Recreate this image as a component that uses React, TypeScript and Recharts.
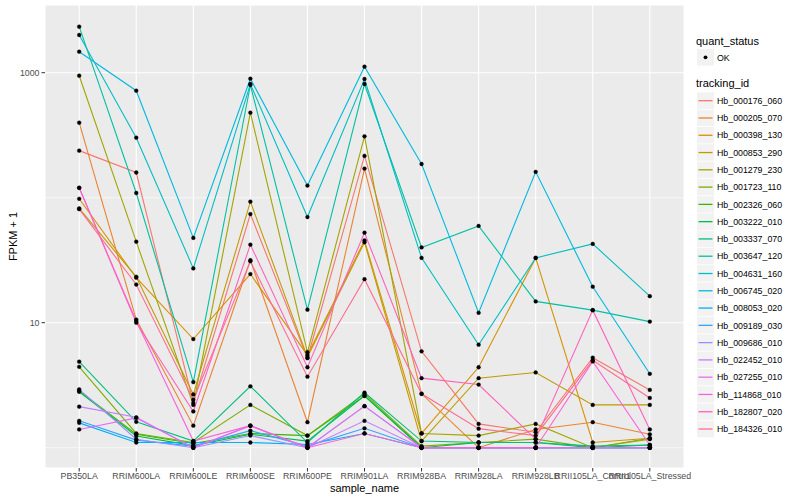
import React from 'react';
import { LineChart, Line, XAxis, YAxis, CartesianGrid, ReferenceLine } from 'recharts';

// samples on the x axis
const samples = [
  'PB350LA', 'RRIM600LA', 'RRIM600LE', 'RRIM600SE', 'RRIM600PE', 'RRIM901LA',
  'RRIM928BA', 'RRIM928LA', 'RRIM928LB', 'RRII105LA_Control', 'RRII105LA_Stressed',
];

// FPKM + 1 per gene (same order as samples)
const hb000176_060 = [238, 159, 2.28, 74, 5.2, 216, 5.9, 1.55, 1.33, 5.25, 2.9];
const hb000205_070 = [398, 10.6, 1.5, 31.6, 1.6, 171, 2.7, 1.0, 1.4, 1.6, 1.28];
const hb000398_130 = [98, 22.9, 7.4, 24.5, 5.5, 45.5, 1.3, 4.4, 33, 1.1, 1.19];
const hb000853_290 = [82, 23.3, 2.67, 93, 5.3, 44, 1.13, 3.6, 4.0, 2.2, 2.2];
const hb001279_230 = [946, 44.5, 2.2, 479, 5.8, 310, 1.3, 1.25, 1.55, 1.0, 1.17];
const hb001723_110 = [4.44, 1.3, 1.1, 2.2, 1.25, 2.7, 1.03, 1.1, 1.17, 1.0, 1.19];
const hb002326_060 = [2.85, 1.28, 1.08, 1.3, 1.25, 2.6, 1.0, 1.0, 1.0, 1.0, 1.0];
const hb003222_010 = [2.8, 1.24, 1.04, 1.28, 1.13, 2.6, 1.0, 1.1, 1.1, 1.0, 1.05];
const hb003337_070 = [4.88, 1.61, 1.13, 3.1, 1.1, 2.76, 1.13, 1.1, 1.1, 1.03, 1.05];
const hb003647_120 = [2335, 109, 3.35, 797, 12.7, 812, 40, 59.4, 14.8, 12.6, 10.2];
const hb004631_160 = [2003, 302, 27.2, 812, 70, 890, 33, 6.67, 33, 42.7, 16.3];
const hb006745_020 = [1473, 718, 47.7, 895, 125, 1117, 186, 12, 161, 19.4, 3.9];
const hb008053_020 = [1.58, 1.1, 1.1, 1.1, 1.06, 1.3, 1.0, 1.0, 1.0, 1.0, 1.0];
const hb009189_030 = [1.64, 1.15, 1.03, 1.37, 1.03, 1.43, 1.0, 1.0, 1.0, 1.0, 1.0];
const hb009686_010 = [2.93, 1.17, 1.0, 1.25, 1.0, 2.15, 1.0, 1.0, 1.0, 1.0, 1.0];
const hb022452_010 = [2.13, 1.75, 1.0, 1.5, 1.0, 1.64, 1.0, 1.0, 1.0, 1.0, 1.0];
const hb027255_010 = [1.4, 1.73, 1.0, 1.5, 1.0, 2.15, 1.0, 1.0, 1.0, 1.0, 1.0];
const hb114868_010 = [120, 10.3, 1.13, 1.5, 1.0, 1.3, 1.0, 1.0, 1.0, 4.9, 1.05];
const hb182807_020 = [120, 10.0, 1.95, 42.1, 4.4, 52.5, 3.6, 3.2, 1.17, 12.6, 1.4];
const hb184326_010 = [81, 20.2, 2.42, 31, 3.7, 22.3, 2.7, 1.42, 1.25, 5.0, 2.5];

const yTicks = [10, 1000];
const yMinor = [1, 100];

// ggplot default hue palette for 20 groups
const series = [
  { id: 'Hb_000176_060', colour: '#F8766D', values: hb000176_060 },
  { id: 'Hb_000205_070', colour: '#EA8331', values: hb000205_070 },
  { id: 'Hb_000398_130', colour: '#D89000', values: hb000398_130 },
  { id: 'Hb_000853_290', colour: '#C09B00', values: hb000853_290 },
  { id: 'Hb_001279_230', colour: '#A3A500', values: hb001279_230 },
  { id: 'Hb_001723_110', colour: '#7CAE00', values: hb001723_110 },
  { id: 'Hb_002326_060', colour: '#39B600', values: hb002326_060 },
  { id: 'Hb_003222_010', colour: '#00BB4E', values: hb003222_010 },
  { id: 'Hb_003337_070', colour: '#00BF7D', values: hb003337_070 },
  { id: 'Hb_003647_120', colour: '#00C1A3', values: hb003647_120 },
  { id: 'Hb_004631_160', colour: '#00BFC4', values: hb004631_160 },
  { id: 'Hb_006745_020', colour: '#00BAE0', values: hb006745_020 },
  { id: 'Hb_008053_020', colour: '#00B0F6', values: hb008053_020 },
  { id: 'Hb_009189_030', colour: '#35A2FF', values: hb009189_030 },
  { id: 'Hb_009686_010', colour: '#9590FF', values: hb009686_010 },
  { id: 'Hb_022452_010', colour: '#C77CFF', values: hb022452_010 },
  { id: 'Hb_027255_010', colour: '#E76BF3', values: hb027255_010 },
  { id: 'Hb_114868_010', colour: '#FA62DB', values: hb114868_010 },
  { id: 'Hb_182807_020', colour: '#FF62BC', values: hb182807_020 },
  { id: 'Hb_184326_010', colour: '#FF6C91', values: hb184326_010 },
];

const data = samples.map((s, i) => {
  const row: any = { sample_name: s };
  series.forEach(sr => { row[sr.id] = sr.values[i]; });
  return row;
});

const FONT = '"Liberation Sans", Arial, sans-serif';

const Legend = () => {
  const rowTop = 100.7;
  const pitch = 17.28;
  return (
    <svg width={800} height={500} style={{ position: 'absolute', left: 0, top: 0, pointerEvents: 'none', fontFamily: FONT }}>
      <text x={696} y={44.5} fontSize={11} fill="#000">quant_status</text>
      <rect x={697} y={49} width={17} height={16.5} fill="#F2F2F2" />
      <circle cx={705.5} cy={57.3} r={1.9} fill="#000" />
      <text x={717} y={60.5} fontSize={8.8} fill="#000">OK</text>
      <text x={696} y={87} fontSize={11} fill="#000">tracking_id</text>
      {series.map((s, i) => {
        const cy = rowTop + i * pitch;
        return (
          <g key={s.id}>
            <rect x={697} y={cy - 8.3} width={17} height={16.5} fill="#F2F2F2" />
            <line x1={698.5} x2={712.5} y1={cy} y2={cy} stroke={s.colour} strokeWidth={1.3} />
            <text x={717} y={cy + 3.2} fontSize={8.8} fill="#000">{s.id}</text>
          </g>
        );
      })}
      <text x={364.5} y={492} fontSize={11} textAnchor="middle" fill="#000">sample_name</text>
      <text x={0} y={0} fontSize={11} textAnchor="middle" fill="#000" transform="translate(16.5 236.5) rotate(-90)">FPKM + 1</text>
    </svg>
  );
};

export default function App() {
  return (
    <div style={{ position: 'absolute', left: 0, top: 0, width: 800, height: 500, background: '#fff' }}>
      <LineChart
        width={800}
        height={500}
        data={data}
        margin={{ top: 5, right: 116, bottom: 0, left: 0 }}
        style={{ fontFamily: FONT }}
      >
        <CartesianGrid fill="#EBEBEB" stroke="#FFFFFF" strokeWidth={1.1} />
        {yMinor.map(v => (
          <ReferenceLine key={v} y={v} stroke="#FFFFFF" strokeWidth={0.55} />
        ))}
        <XAxis
          dataKey="sample_name"
          type="category"
          scale="point"
          interval={0}
          padding={{ left: 34.2, right: 34.2 }}
          height={32}
          axisLine={false}
          tickSize={3.5}
          tickMargin={1.5}
          tickLine={{ stroke: '#333333' }}
          tick={{ fontSize: 8.8, fill: '#4D4D4D' }}
        />
        <YAxis
          type="number"
          scale="log"
          domain={[0.688, 3480]}
          allowDataOverflow
          ticks={yTicks}
          width={45}
          axisLine={false}
          tickSize={3.5}
          tickMargin={2}
          tickLine={{ stroke: '#333333' }}
          tick={{ fontSize: 8.8, fill: '#4D4D4D' }}
        />
        {series.map(s => (
          <Line
            key={s.id}
            type="linear"
            dataKey={s.id}
            stroke={s.colour}
            strokeWidth={1.1}
            dot={{ r: 1.9, fill: '#000', stroke: '#000', strokeWidth: 0.4 }}
            activeDot={false}
            isAnimationActive={false}
          />
        ))}
      </LineChart>
      <Legend />
    </div>
  );
}
